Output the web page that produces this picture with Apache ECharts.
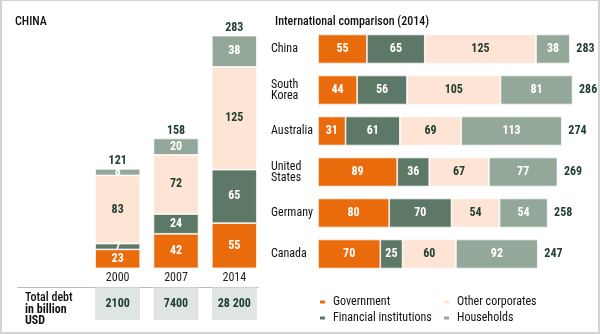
<!DOCTYPE html>
<html><head><meta charset="utf-8">
<script src="https://cdn.jsdelivr.net/npm/echarts@6/dist/echarts.min.js"></script>
<style>
html,body{margin:0;padding:0;background:#fff;}
#wrap{position:relative;width:600px;height:334px;}
#c{width:600px;height:334px;}
#frame{position:absolute;left:0;top:0;width:600px;height:334px;box-sizing:border-box;border:2px solid #d3d3d3;border-top-width:1px;pointer-events:none;}
</style></head>
<body><div id="wrap"><div id="c"></div><div id="frame"></div></div>
<script>
// ---- data ----
var years = ['2000', '2007', '2014'];
var chinaGov = [23, 42, 55];
var chinaFin = [7, 24, 65];
var chinaOther = [83, 72, 125];
var chinaHouse = [8, 20, 38];
var chinaTotal = [121, 158, 283];
var totalDebt = ['2100', '7400', '28 200'];

var countries = ['China', 'South\nKorea', 'Australia', 'United\nStates', 'Germany', 'Canada'];
var intGov = [55, 44, 31, 89, 80, 70];
var intFin = [65, 56, 61, 36, 70, 25];
var intOther = [125, 105, 69, 67, 54, 60];
var intHouse = [38, 81, 113, 77, 54, 92];
var intTotal = [283, 286, 274, 269, 258, 247];

var seriesNames = ['Government', 'Financial institutions', 'Other corporates', 'Households'];
// ---- style ----
var FONT = "'Roboto Condensed','Archivo Narrow','Liberation Sans',sans-serif";
var colors = ['#e96b0c', '#5e7867', '#fde4d4', '#94a89a'];
var darkText = '#213f31';
var labelColors = ['#fff', '#fff', darkText, '#fff'];

var chart = echarts.init(document.getElementById('c'), null, {renderer: 'canvas'});

function barLabel(i) {
  return {show: true, position: 'inside', color: labelColors[i], fontFamily: FONT,
          fontSize: 12, fontWeight: 'bold'};
}
var leftData = [chinaGov, chinaFin, chinaOther, chinaHouse];
var rightData = [intGov, intFin, intOther, intHouse];
var series = [];
seriesNames.forEach(function (n, i) {
  series.push({name: n, type: 'bar', stack: 'left', xAxisIndex: 0, yAxisIndex: 0,
    barWidth: 45, data: leftData[i], label: barLabel(i),
    itemStyle: {color: colors[i], borderColor: '#fff', borderWidth: 0.7},
    emphasis: {disabled: true}, animation: false});
});
seriesNames.forEach(function (n, i) {
  series.push({name: n, type: 'bar', stack: 'right', xAxisIndex: 4, yAxisIndex: 3,
    barWidth: 29, data: rightData[i], label: barLabel(i),
    itemStyle: {color: colors[i], borderColor: '#fff', borderWidth: 0.7},
    emphasis: {disabled: true}, animation: false});
});
// totals on top of left bars
series.push({type: 'scatter', xAxisIndex: 0, yAxisIndex: 0, symbolSize: 1,
  itemStyle: {color: 'rgba(0,0,0,0)'}, data: chinaTotal, animation: false, silent: true,
  label: {show: true, position: 'top', distance: 1, color: darkText, opacity: 1, fontFamily: FONT,
          fontSize: 12, fontWeight: 'bold', formatter: function (p) { return p.value; }}});
// totals right of international bars
series.push({type: 'scatter', xAxisIndex: 4, yAxisIndex: 3, symbolSize: 1,
  itemStyle: {color: 'rgba(0,0,0,0)'}, data: intTotal, animation: false, silent: true,
  label: {show: true, position: 'right', distance: 6, color: darkText, opacity: 1, fontFamily: FONT,
          fontSize: 12, fontWeight: 'bold', formatter: function (p) { return p.value; }}});
// table cells with total debt
series.push({type: 'bar', xAxisIndex: 3, yAxisIndex: 2, barWidth: 45,
  data: totalDebt.map(function () { return 1; }), animation: false, silent: true,
  itemStyle: {color: '#dfe5e1'},
  label: {show: true, position: 'inside', color: darkText, fontFamily: FONT, fontSize: 12,
          fontWeight: 'bold', formatter: function (p) { return totalDebt[p.dataIndex]; }}});

var hidden = {show: false};
var option = {
  backgroundColor: '#fff',
  animation: false,
  color: colors,
  title: [
    {text: 'CHINA', left: 10, top: 11, textStyle: {fontFamily: FONT, fontSize: 12, fontWeight: 500, color: '#111'}},
    {text: 'International comparison (2014)', left: 270, top: 11, textStyle: {fontFamily: FONT, fontSize: 12, fontWeight: 500, color: '#111'}},
    {text: '{b|Total debt}\n{n|in billion}\n{n|USD}', left: 20, top: 287,
     textStyle: {rich: {
       b: {fontFamily: FONT, fontSize: 12, fontWeight: 500, color: '#111', lineHeight: 11.7},
       n: {fontFamily: FONT, fontSize: 12, color: '#111', lineHeight: 11.7}}}}
  ],
  legend: [
    {data: ['Government', 'Financial institutions'], orient: 'vertical', left: 313, top: 291,
     itemWidth: 7, itemHeight: 5, itemGap: 4, icon: 'rect', selectedMode: false,
     textStyle: {fontFamily: FONT, fontSize: 12, color: '#111', padding: [0, 0, 0, 2]}},
    {data: ['Other corporates', 'Households'], orient: 'vertical', left: 437, top: 291,
     itemWidth: 7, itemHeight: 5, itemGap: 4, icon: 'rect', selectedMode: false,
     textStyle: {fontFamily: FONT, fontSize: 12, color: '#111', padding: [0, 0, 0, 2]}}
  ],
  grid: [
    {left: 88.5, width: 175, top: 21.7, height: 246.6},
    {left: 18, width: 240, top: 268.3, height: 19},
    {left: 88.5, width: 175, top: 287.5, height: 32.5},
    {left: 318, width: 267, top: 28.5, height: 246}
  ],
  xAxis: [
    {gridIndex: 0, type: 'category', data: years, axisLine: hidden, axisTick: hidden,
     axisLabel: {margin: 4, fontFamily: FONT, fontSize: 12, color: '#222'}},
    {gridIndex: 1, type: 'value', position: 'top', min: 0, max: 1, axisLabel: hidden, axisTick: hidden,
     splitLine: hidden, axisLine: {show: true, lineStyle: {color: '#b7bdb9', width: 1}}},
    {gridIndex: 1, type: 'value', position: 'bottom', min: 0, max: 1, axisLabel: hidden, axisTick: hidden,
     splitLine: hidden, axisLine: {show: true, lineStyle: {color: '#b7bdb9', width: 1}}},
    {gridIndex: 2, type: 'category', data: years, show: false},
    {gridIndex: 3, type: 'value', min: 0, max: 300, show: false}
  ],
  yAxis: [
    {gridIndex: 0, type: 'value', min: 0, max: 300, show: false},
    {gridIndex: 1, type: 'value', show: false},
    {gridIndex: 2, type: 'value', min: 0, max: 1, show: false},
    {gridIndex: 3, type: 'category', data: countries, inverse: true, axisLine: hidden, axisTick: hidden,
     axisLabel: {align: 'left', margin: 47, fontFamily: FONT, fontSize: 12, color: '#111', lineHeight: 11}}
  ],
  series: series
};
chart.setOption(option);
</script></body></html>
